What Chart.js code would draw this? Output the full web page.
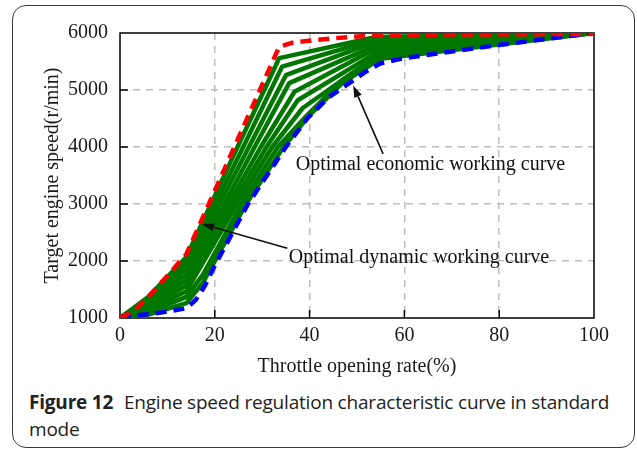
<!DOCTYPE html>
<html>
<head>
<meta charset="utf-8">
<script src="https://cdn.jsdelivr.net/npm/chart.js@4.4.1/dist/chart.umd.min.js"></script>
<style>
  html, body { margin: 0; padding: 0; background: #fff; }
  body { width: 637px; height: 450px; position: relative; overflow: hidden; }
  #frame {
    position: absolute; left: 12px; top: 5px; width: 623px; height: 443px;
    box-sizing: border-box; border: 1px solid #3a3a3a; border-radius: 14px;
  }
  #speedChart { position: absolute; left: 0; top: 0; }
  #caption {
    position: absolute; left: 29px; top: 389px; width: 598px;
    font-family: "Open Sans", sans-serif; font-size: 19px; line-height: 27px; color: #222;
    letter-spacing: -0.2px;
  }
  #caption b { font-weight: 700; margin-right: 6px; }
</style>
</head>
<body>
<div id="frame"></div>
<canvas id="speedChart" width="637" height="385"></canvas>
<div id="caption"><b>Figure 12</b> Engine speed regulation characteristic curve in standard mode</div>

<script>
// axis ticks
const throttleTicks = [0, 20, 40, 60, 80, 100];
const speedTicks = [1000, 2000, 3000, 4000, 5000, 6000];

// optimal dynamic working curve (red, upper bound)
const dynamicX = [0, 3, 6.5, 10, 14, 33.6, 36.4, 41.4, 48.4, 53, 60, 100];
const dynamicY = [1000, 1130, 1420, 1740, 2120, 5760, 5830, 5880, 5930, 5955, 5968, 5985];

// optimal economic working curve (blue, lower bound)
const economicX = [0, 3, 9, 14, 16, 17.8, 20, 27, 35, 39.5, 44, 48, 52, 55, 60, 80, 100];
const economicY = [1000, 1040, 1100, 1170, 1320, 1550, 1920, 3000, 4000, 4500, 4870, 5100, 5330, 5470, 5560, 5790, 6000];

// regulation curves in between (green)
const curve1X = [0, 6, 14, 19.2, 24.8, 33.6, 54, 100];
const curve1Y = [1000, 1370, 2070, 3000, 4000, 5560, 5930, 6000];
const curve2X = [0, 6, 14, 20.1, 26.0, 34.2, 54, 100];
const curve2Y = [1000, 1340, 1970, 3000, 4000, 5410, 5890, 6000];
const curve3X = [0, 6, 14, 21.0, 27.2, 35.0, 54, 100];
const curve3Y = [1000, 1300, 1870, 3000, 4000, 5260, 5850, 6000];
const curve4X = [0, 6, 14, 22.0, 28.4, 35.7, 54.5, 100];
const curve4Y = [1000, 1260, 1770, 3000, 4000, 5120, 5800, 6000];
const curve5X = [0, 6, 14, 22.9, 29.7, 36.8, 54.5, 100];
const curve5Y = [1000, 1220, 1670, 3000, 4000, 4970, 5750, 6000];
const curve6X = [0, 6, 14, 23.8, 30.9, 37.5, 55, 100];
const curve6Y = [1000, 1180, 1570, 3000, 4000, 4820, 5700, 6000];
const curve7X = [0, 6, 14, 24.7, 32.1, 38.5, 55, 100];
const curve7Y = [1000, 1140, 1470, 3000, 4000, 4680, 5650, 6000];
const curve8X = [0, 6, 14, 17.5, 25.7, 33.3, 39.5, 47, 55, 100];
const curve8Y = [1000, 1100, 1370, 1760, 3000, 4000, 4560, 5180, 5600, 6000];
const curve9X = [0, 6, 14, 17.5, 26.6, 34.5, 40, 47, 55, 100];
const curve9Y = [1000, 1060, 1260, 1620, 3000, 4000, 4560, 5130, 5550, 6000];

// callouts: text, text anchor (left, middle), arrow tail, arrow head
const noteTexts = ["Optimal economic working curve", "Optimal dynamic working curve"];
const noteAnchors = [[37.1, 3690], [35.6, 2055]];
const arrowTails = [[55.5, 3880], [35.3, 2225]];
const arrowHeads = [[49.2, 5080], [17.3, 2650]];

const serif = "'Liberation Serif', 'Times New Roman', serif";

function toPoints(xs, ys) {
  return xs.map((x, i) => ({ x: x, y: ys[i] }));
}

const greenCurves = [
  [curve1X, curve1Y], [curve2X, curve2Y], [curve3X, curve3Y],
  [curve4X, curve4Y], [curve5X, curve5Y], [curve6X, curve6Y],
  [curve7X, curve7Y], [curve8X, curve8Y], [curve9X, curve9Y]
];

const datasets = [
  {
    data: toPoints(dynamicX, dynamicY),
    borderColor: "#ff0000", borderWidth: 4.5, borderDash: [11, 7]
  },
  {
    data: toPoints(economicX, economicY),
    borderColor: "#0000ff", borderWidth: 4.5, borderDash: [11, 7]
  }
].concat(greenCurves.map(c => ({
  data: toPoints(c[0], c[1]),
  borderColor: "#007800", borderWidth: 4.5
})));

// frame, inward ticks and callouts
const decorations = {
  id: "decorations",
  beforeDatasetsDraw(chart) {
    const { ctx, chartArea: a } = chart;
    ctx.save();
    ctx.strokeStyle = "#000";
    ctx.lineWidth = 1.5;
    ctx.strokeRect(a.left, a.top, a.right - a.left, a.bottom - a.top);
    const xs = chart.scales.x, ys = chart.scales.y;
    ctx.beginPath();
    throttleTicks.slice(1, -1).forEach(v => {
      const px = xs.getPixelForValue(v);
      ctx.moveTo(px, a.bottom);
      ctx.lineTo(px, a.bottom - 8);
    });
    speedTicks.slice(1, -1).forEach(v => {
      const py = ys.getPixelForValue(v);
      ctx.moveTo(a.left, py);
      ctx.lineTo(a.left + 8, py);
    });
    ctx.stroke();
    ctx.restore();
  },
  afterDraw(chart) {
    const { ctx } = chart;
    const xs = chart.scales.x, ys = chart.scales.y;
    ctx.save();
    ctx.fillStyle = "#111";
    ctx.strokeStyle = "#111";
    ctx.font = "20px " + serif;
    ctx.textBaseline = "middle";
    noteTexts.forEach((t, i) => {
      ctx.fillText(t, xs.getPixelForValue(noteAnchors[i][0]), ys.getPixelForValue(noteAnchors[i][1]));
    });
    arrowTails.forEach((tail, i) => {
      const x0 = xs.getPixelForValue(tail[0]), y0 = ys.getPixelForValue(tail[1]);
      const x1 = xs.getPixelForValue(arrowHeads[i][0]), y1 = ys.getPixelForValue(arrowHeads[i][1]);
      const ang = Math.atan2(y1 - y0, x1 - x0);
      const len = 12, half = 4;
      const bx = x1 - len * Math.cos(ang), by = y1 - len * Math.sin(ang);
      ctx.lineWidth = 1.6;
      ctx.beginPath();
      ctx.moveTo(x0, y0);
      ctx.lineTo(bx, by);
      ctx.stroke();
      ctx.beginPath();
      ctx.moveTo(x1, y1);
      ctx.lineTo(bx + half * Math.sin(ang), by - half * Math.cos(ang));
      ctx.lineTo(bx - half * Math.sin(ang), by + half * Math.cos(ang));
      ctx.closePath();
      ctx.fill();
    });
    ctx.restore();
  }
};

const gridColor = (lo, hi) => c => (c.tick.value === lo || c.tick.value === hi) ? "rgba(0,0,0,0)" : "#bdbdbd";

new Chart(document.getElementById("speedChart"), {
  type: "scatter",
  data: { datasets: datasets },
  options: {
    responsive: false,
    animation: false,
    devicePixelRatio: 1,
    layout: { padding: { left: 0, top: 33, right: 43, bottom: 0 } },
    elements: {
      point: { radius: 0, hoverRadius: 0 },
      line: { tension: 0, fill: false, borderCapStyle: "butt", borderJoinStyle: "round" }
    },
    datasets: { scatter: { showLine: true } },
    plugins: { legend: { display: false }, tooltip: { enabled: false } },
    scales: {
      x: {
        type: "linear", min: 0, max: 100,
        afterBuildTicks: s => { s.ticks = throttleTicks.map(v => ({ value: v })); },
        afterFit: s => { s.height = 67; },
        grid: { color: gridColor(0, 100), lineWidth: 1.5, drawTicks: false },
        border: { display: false, dash: [7, 6] },
        ticks: { padding: 6, color: "#1a1a1a", font: { family: serif, size: 20 }, callback: v => String(v) },
        title: {
          display: true, text: "Throttle opening rate(%)", color: "#1a1a1a",
          font: { family: serif, size: 20 }, padding: { top: 0, bottom: 6 }
        }
      },
      y: {
        type: "linear", min: 1000, max: 6000,
        afterBuildTicks: s => { s.ticks = speedTicks.map(v => ({ value: v })); },
        afterFit: s => { s.width = 120; },
        grid: { color: gridColor(1000, 6000), lineWidth: 1.5, drawTicks: false },
        border: { display: false, dash: [7, 6] },
        ticks: { padding: 12, color: "#1a1a1a", font: { family: serif, size: 20 }, callback: v => String(v) },
        title: {
          display: true, text: "Target engine speed(r/min)", color: "#1a1a1a",
          font: { family: serif, size: 20 }, padding: { top: 41, bottom: 0 }
        }
      }
    }
  },
  plugins: [decorations]
});
</script>
</body>
</html>
